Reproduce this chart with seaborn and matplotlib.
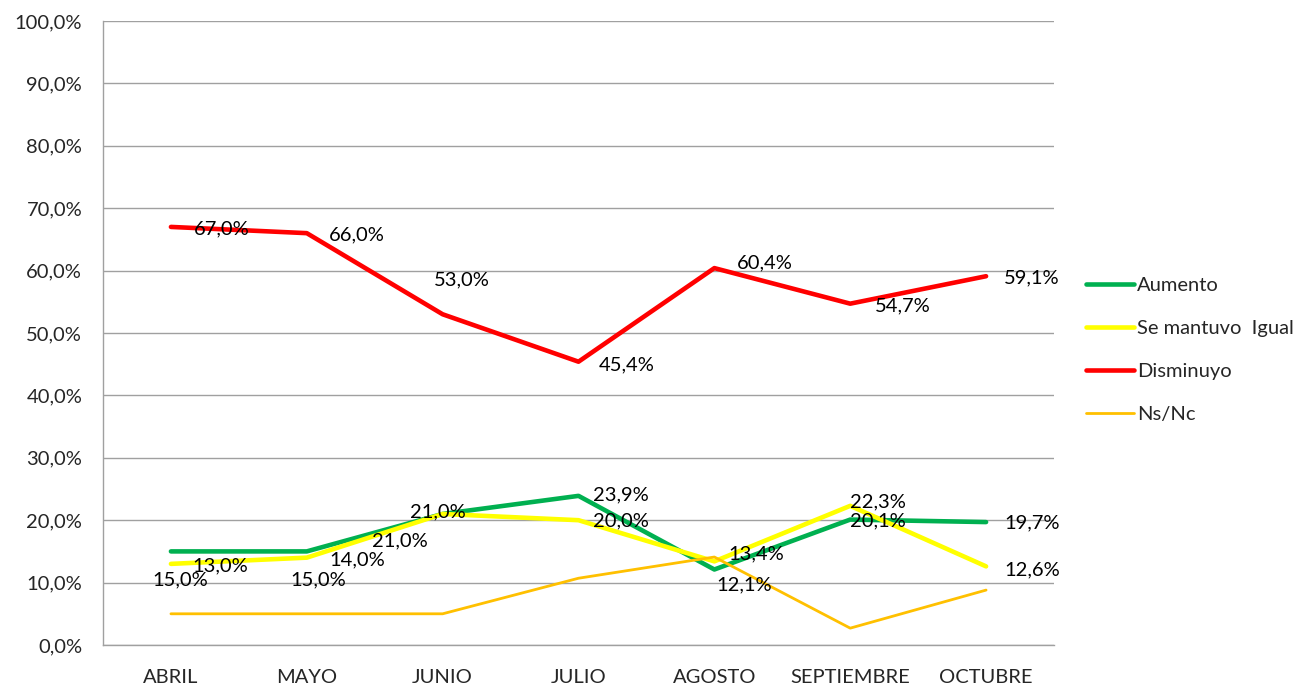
import numpy as np
import pandas as pd
import matplotlib
matplotlib.use("Agg")
import matplotlib.pyplot as plt
import seaborn as sns
from matplotlib.ticker import FuncFormatter, MultipleLocator, FixedLocator

meses = ["ABRIL", "MAYO", "JUNIO", "JULIO", "AGOSTO", "SEPTIEMBRE", "OCTUBRE"]
series = ["Aumento", "Se mantuvo  Igual", "Disminuyo", "Ns/Nc"]
aumento = [15.0, 15.0, 21.0, 23.9, 12.1, 20.1, 19.7]
se_mantuvo = [13.0, 14.0, 21.0, 20.0, 13.4, 22.3, 12.6]
disminuyo = [67.0, 66.0, 53.0, 45.4, 60.4, 54.7, 59.1]
ns_nc = [5.0, 5.0, 5.0, 10.7, 14.1, 2.7, 8.8]

colores = {"Aumento": "#00B050", "Se mantuvo  Igual": "#FFFF00",
           "Disminuyo": "#FF0000", "Ns/Nc": "#FFC000"}
anchos = {"Aumento": 3.3, "Se mantuvo  Igual": 3.3, "Disminuyo": 3.3, "Ns/Nc": 2.0}

# label offsets in pixels (dx, dy), hand placed like the excel chart
offsets = {
    "Aumento": [(9, -28), (11, -28), (-5, 2), (42, 1), (30, -15), (28, -1), (46, -1)],
    "Se mantuvo  Igual": [(49, -2), (50, -2), (-43, -27), (42, -1), (42, 8), (28, 4), (46, -3)],
    "Disminuyo": [(51, -2), (50, -2), (19, 34), (48, -3), (50, 5), (53, -2), (46, -2)],
}

valores = {"Aumento": aumento, "Se mantuvo  Igual": se_mantuvo,
           "Disminuyo": disminuyo, "Ns/Nc": ns_nc}
df = pd.DataFrame([(m, s, v) for s in series for m, v in zip(meses, valores[s])],
                  columns=["mes", "serie", "valor"])

sns.set_style("white")
plt.rcParams["font.family"] = ["Lato", "DejaVu Sans"]
fs = 14.5

fig = plt.figure(figsize=(13.03, 6.87), dpi=100)
ax = fig.add_axes([103 / 1303, 1 - 645 / 687, (1054 - 103) / 1303, (645 - 21) / 687])

for s in series:
    sns.lineplot(data=df[df.serie == s], x="mes", y="valor", color=colores[s],
                 linewidth=anchos[s], label=s, ax=ax, sort=False, zorder=3)

for s, offs in offsets.items():
    for i, (v, (dx, dy)) in enumerate(zip(valores[s], offs)):
        ax.annotate(f"{v:.1f}%".replace(".", ","), (i, v), xytext=(dx, dy),
                    textcoords="offset pixels", ha="center", va="center",
                    fontsize=fs, color="black", zorder=5)

ax.set_xlim(-0.5, 6.5)
ax.set_ylim(0, 100)
ax.yaxis.set_major_locator(MultipleLocator(10))
ax.yaxis.set_major_formatter(FuncFormatter(lambda y, _: f"{y:.1f}%".replace(".", ",")))
ax.set_xticks(range(len(meses)))
ax.set_xticklabels(meses)
ax.xaxis.set_minor_locator(FixedLocator(np.arange(-0.5, 7, 1)))
ax.tick_params(axis="x", which="major", length=0, pad=17, labelsize=fs)
ax.tick_params(axis="x", which="minor", length=6, color="#A0A0A0", direction="out")
ax.tick_params(axis="y", length=6, color="#A0A0A0", direction="out", pad=9, labelsize=fs)
ax.grid(axis="y", color="#A0A0A0", linewidth=1)
ax.set_axisbelow(True)
ax.set_xlabel("")
ax.set_ylabel("")
for side in ["top", "right"]:
    ax.spines[side].set_visible(False)
for side in ["left", "bottom"]:
    ax.spines[side].set_color("#A0A0A0")
    ax.spines[side].set_linewidth(1)

ax.legend(loc="center left", bbox_to_anchor=(1086 / 1303, 1 - 350 / 687),
          bbox_transform=fig.transFigure, frameon=False, handlelength=2.4,
          handletextpad=0.15, labelspacing=1.3, fontsize=fs, borderaxespad=0,
          borderpad=0)

fig.savefig("out.png", dpi=100)
